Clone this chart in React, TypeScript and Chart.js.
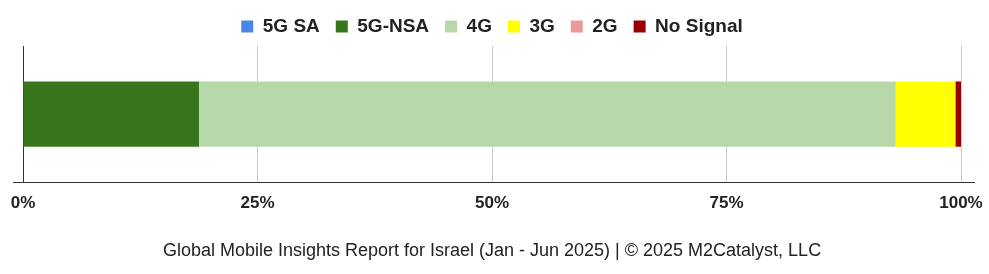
import React, { useEffect, useRef } from "react";
import { Chart, registerables } from "chart.js";

Chart.register(...registerables);

const categories = ["Israel"];
const seriesNames = ["5G SA", "5G-NSA", "4G", "3G", "2G", "No Signal"];
const seriesValues = [[0], [18.76], [74.28], [6.36], [0], [0.6]];
const seriesColors = ["#4a86e8", "#38761d", "#b6d7a8", "#ffff00", "#ea9999", "#990000"];
const tickValues = [0, 25, 50, 75, 100];
const footerText = "Global Mobile Insights Report for Israel (Jan - Jun 2025) | © 2025 M2Catalyst, LLC";

const FONT = "'Liberation Sans', Arial, sans-serif";

export default function App() {
  const ref = useRef<HTMLCanvasElement | null>(null);
  useEffect(() => {
    document.body.style.margin = "0";
    const extAxis = {
      id: "extAxis",
      afterDraw(chart: any) {
        const { ctx, chartArea } = chart;
        ctx.save();
        ctx.strokeStyle = "#333333";
        ctx.lineWidth = 1;
        ctx.beginPath();
        const y = Math.round(chartArea.bottom) + 0.5;
        ctx.moveTo(chartArea.left - 10, y);
        ctx.lineTo(chartArea.right + 14, y);
        ctx.stroke();
        ctx.restore();
      },
    };
    const chart = new Chart(ref.current!, {
      type: "bar",
      data: {
        labels: categories,
        datasets: seriesNames.map((n, i) => ({
          label: n,
          data: seriesValues[i],
          backgroundColor: seriesColors[i],
          borderWidth: 0,
          barPercentage: 0.478,
          categoryPercentage: 1,
        })),
      },
      options: {
        indexAxis: "y",
        animation: false,
        responsive: false,
        maintainAspectRatio: false,
        layout: { padding: { left: 23, right: 28, top: 1, bottom: 4 } },
        plugins: {
          legend: {
            position: "top",
            labels: {
              boxWidth: 12,
              boxHeight: 12,
              padding: 16,
              color: "#222222",
              font: { family: FONT, size: 19, weight: "bold" },
            },
          },
          title: {
            display: true,
            position: "bottom",
            text: footerText,
            color: "#222222",
            font: { family: FONT, size: 18, weight: "normal" },
            padding: { top: 15, bottom: 8 },
          },
          tooltip: { enabled: false },
        },
        scales: {
          x: {
            stacked: true,
            min: 0,
            max: 100,
            afterBuildTicks: (axis: any) => {
              axis.ticks = tickValues.map((v) => ({ value: v }));
            },
            afterFit: (axis: any) => {
              axis.paddingLeft = 0;
              axis.paddingRight = 0;
            },
            ticks: {
              callback: (v: any) => v + "%",
              color: "#222222",
              padding: 11.4,
              maxRotation: 0,
              font: { family: FONT, size: 17, weight: "bold" },
            },
            grid: { color: "#cccccc", drawTicks: false },
            border: { display: false },
          },
          y: {
            stacked: true,
            ticks: { display: false },
            grid: { display: false },
            border: { display: true, color: "#333333" },
            afterFit: (axis: any) => {
              axis.width = 0;
            },
          },
        },
      },
      plugins: [extAxis],
    } as any);
    return () => chart.destroy();
  }, []);
  return <canvas ref={ref} width={989} height={274} style={{ display: "block" }} />;
}
